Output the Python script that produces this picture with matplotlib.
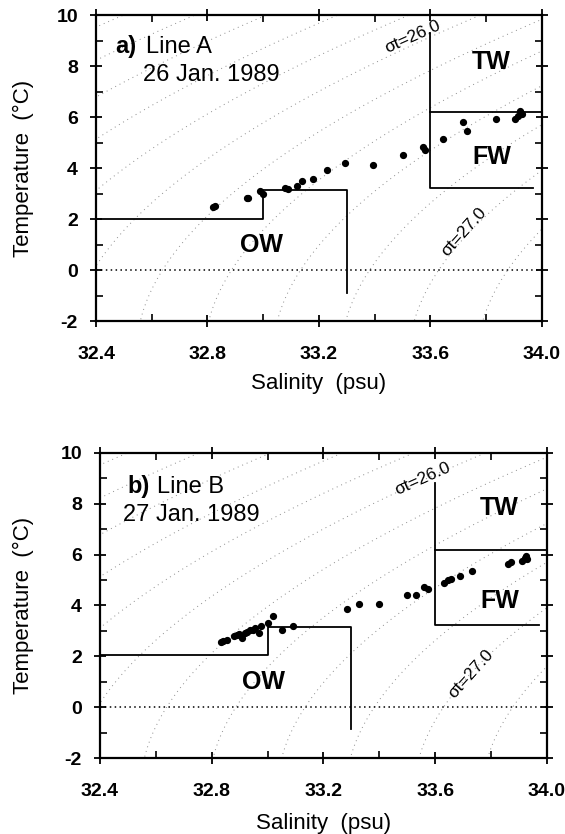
import matplotlib.pyplot as plt
import numpy as np
from matplotlib.ticker import MultipleLocator

plt.rcParams['font.family'] = ['Liberation Sans', 'DejaVu Sans']
plt.rcParams['axes.unicode_minus'] = False

# T-S points, Line A (26 Jan. 1989)
sal_a = [32.818, 32.826, 32.94, 32.945, 32.987, 33.0, 33.077, 33.09, 33.12, 33.14,
         33.18, 33.23, 33.295, 33.394, 33.50, 33.575, 33.58, 33.645, 33.716, 33.73,
         33.836, 33.905, 33.92, 33.93, 33.915]
temp_a = [2.47, 2.50, 2.82, 2.84, 3.10, 2.99, 3.22, 3.19, 3.31, 3.48,
          3.57, 3.94, 4.19, 4.12, 4.52, 4.81, 4.72, 5.13, 5.82, 5.46,
          5.94, 5.91, 6.24, 6.11, 6.05]

# T-S points, Line B (27 Jan. 1989)
sal_b = [32.833, 32.842, 32.854, 32.878, 32.89, 32.896, 32.908, 32.92, 32.925, 32.938,
         32.947, 32.955, 32.97, 32.977, 33.003, 33.02, 33.05, 33.09, 33.284, 33.328,
         33.40, 33.50, 33.53, 33.56, 33.574, 33.63, 33.645, 33.657, 33.69, 33.73,
         33.86, 33.87, 33.91, 33.925, 33.93, 33.92]
temp_b = [2.57, 2.62, 2.66, 2.79, 2.82, 2.86, 2.73, 2.93, 2.96, 3.02,
          3.03, 3.10, 2.91, 3.19, 3.30, 3.58, 3.02, 3.20, 3.85, 4.07,
          4.07, 4.41, 4.41, 4.73, 4.66, 4.90, 5.00, 5.03, 5.14, 5.36,
          5.63, 5.69, 5.76, 5.96, 5.83, 5.87]

# water mass boundaries (OW, FW/TW)
ow_sal = [32.4, 33.0, 33.0, 33.3, 33.3]
ow_temp_a = [2.0, 2.0, 3.15, 3.15, -0.9]
ow_temp_b = [2.05, 2.05, 3.15, 3.15, -0.85]
fw_sal = [33.6, 33.6, 33.97]
fw_temp_a = [9.3, 3.2, 3.2]
fw_temp_b = [8.8, 3.25, 3.25]
tw_sal = [33.6, 34.0]
tw_temp_a = [6.2, 6.2]
tw_temp_b = [6.2, 6.2]

sigma_levels = np.arange(24.0, 28.01, 0.2)


def sigma_t(s, t):
    """Surface density anomaly, UNESCO 1980 equation of state at p=0."""
    rho_w = (999.842594 + 6.793952e-2 * t - 9.095290e-3 * t**2 + 1.001685e-4 * t**3
             - 1.120083e-6 * t**4 + 6.536332e-9 * t**5)
    a = 8.24493e-1 - 4.0899e-3 * t + 7.6438e-5 * t**2 - 8.2467e-7 * t**3 + 5.3875e-9 * t**4
    b = -5.72466e-3 + 1.0227e-4 * t - 1.6546e-6 * t**2
    c = 4.8314e-4
    return rho_w + a * s + b * s**1.5 + c * s**2 - 1000.0


def draw_panel(ax, sal, temp, ow_temp, fw_temp, tw_temp, tag, line_name, date,
               title_pos, name_dx, date_pos, s26_pos, s27_pos, tw_pos, fw_pos, ow_pos):
    # isopycnals in the background
    ss, tt = np.meshgrid(np.linspace(32.3, 34.1, 200), np.linspace(-2.5, 10.5, 200))
    ax.contour(ss, tt, sigma_t(ss, tt), levels=sigma_levels, colors='0.55',
               linewidths=0.7, linestyles=[(0, (1, 4))])
    ax.axhline(0, color='black', lw=1.1, ls=(0, (1, 2.2)))

    # water mass boxes
    ax.plot(ow_sal, ow_temp, color='black', lw=1.3)
    ax.plot(fw_sal, fw_temp, color='black', lw=1.3)
    ax.plot(tw_sal, tw_temp, color='black', lw=1.3)

    ax.plot(sal, temp, 'o', color='black', ms=4.2, mec='black')

    ax.text(*title_pos, f'{tag})', fontsize=17, fontweight='bold', ha='left')
    ax.text(title_pos[0] + name_dx, title_pos[1], line_name, fontsize=17, ha='left')
    ax.text(*date_pos, date, fontsize=17, ha='left')
    ax.text(*ow_pos, 'OW', fontsize=18, fontweight='bold', ha='center', va='center')
    ax.text(*tw_pos, 'TW', fontsize=18, fontweight='bold', ha='center', va='center')
    ax.text(*fw_pos, 'FW', fontsize=18, fontweight='bold', ha='center', va='center')
    ax.text(*s26_pos, 'σt=26.0', fontsize=12.5, rotation=24, ha='center', va='center')
    ax.text(*s27_pos, 'σt=27.0', fontsize=12.5, rotation=48, ha='center', va='center')

    ax.set_xlim(32.4, 34.0)
    ax.set_ylim(-2, 10)
    ax.xaxis.set_major_locator(MultipleLocator(0.4))
    ax.xaxis.set_minor_locator(MultipleLocator(0.2))
    ax.yaxis.set_major_locator(MultipleLocator(2))
    ax.yaxis.set_minor_locator(MultipleLocator(1))
    ax.set_xticklabels([f'{v:.1f}' for v in ax.get_xticks()])
    ax.tick_params(which='major', direction='inout', length=8, width=1.3,
                   labelsize=14, top=True, right=True)
    ax.tick_params(which='minor', direction='in', length=5, width=1.2,
                   top=True, right=True)
    ax.tick_params(axis='x', which='major', pad=14)
    ax.tick_params(axis='y', which='major', pad=9)
    for lab in ax.get_xticklabels() + ax.get_yticklabels():
        lab.set_fontweight('bold')
    for sp in ax.spines.values():
        sp.set_linewidth(1.6)

    ax.set_xlabel('Salinity  (psu)', fontsize=16)
    ax.set_ylabel('Temperature  (°C)', fontsize=16)


fig = plt.figure(figsize=(5.65, 8.34), dpi=100)
ax_a = fig.add_axes([0.170, 0.615, 0.789, 0.367])
ax_b = fig.add_axes([0.177, 0.091, 0.791, 0.366])

draw_panel(ax_a, sal_a, temp_a, ow_temp_a, fw_temp_a, tw_temp_a, 'a', 'Line A', '26 Jan. 1989',
           (32.468, 8.53), 0.111, (32.568, 7.40), (33.536, 9.15), (33.72, 1.51),
           (33.82, 8.14), (33.82, 4.43), (32.995, 1.0))
draw_panel(ax_b, sal_b, temp_b, ow_temp_b, fw_temp_b, tw_temp_b, 'b', 'Line B', '27 Jan. 1989',
           (32.497, 8.41), 0.108, (32.482, 7.34), (33.554, 9.0), (33.726, 1.33),
           (33.83, 7.85), (33.83, 4.18), (32.984, 1.0))

ax_a.yaxis.set_label_coords(-0.139, 0.5)
ax_b.yaxis.set_label_coords(-0.147, 0.5)
ax_a.xaxis.set_label_coords(0.5, -0.17)
ax_b.xaxis.set_label_coords(0.5, -0.18)

fig.savefig('out.png', dpi=100)
